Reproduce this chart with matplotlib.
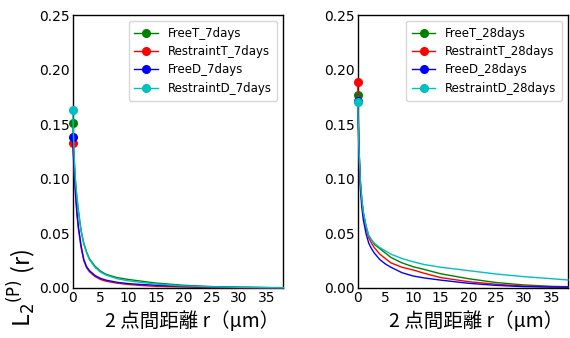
import matplotlib
matplotlib.use("Agg")
import matplotlib.pyplot as plt

r = [0, 0.25, 0.5, 0.75, 1, 1.5, 2, 2.5, 3, 4, 5, 6, 8, 10, 12, 15, 20, 25, 30, 35, 38]

# 7 days
freeT_7 = [0.151, 0.118, 0.097, 0.083, 0.072, 0.053, 0.041, 0.033, 0.027, 0.020, 0.0155, 0.0125, 0.0095,
           0.0078, 0.0065, 0.0045, 0.0025, 0.0013, 0.0007, 0.0004, 0.0003]
restT_7 = [0.133, 0.106, 0.085, 0.068, 0.055, 0.037, 0.025, 0.0185, 0.015, 0.0105, 0.0078, 0.0062, 0.0044,
           0.0032, 0.0024, 0.0015, 0.0008, 0.0004, 0.0002, 0.0001, 0.0001]
freeD_7 = [0.138, 0.110, 0.088, 0.070, 0.057, 0.039, 0.026, 0.0195, 0.016, 0.0115, 0.0088, 0.0072, 0.0052,
           0.004, 0.0033, 0.0025, 0.0015, 0.0009, 0.0005, 0.0003, 0.0002]
restD_7 = [0.163, 0.122, 0.098, 0.083, 0.071, 0.052, 0.040, 0.032, 0.026, 0.019, 0.0145, 0.0118, 0.0085,
           0.0066, 0.0053, 0.0036, 0.0019, 0.0011, 0.0006, 0.0003, 0.0002]

# 28 days
freeT_28 = [0.177, 0.126, 0.097, 0.081, 0.070, 0.057, 0.048, 0.044, 0.040, 0.036, 0.032, 0.028, 0.023,
            0.0195, 0.017, 0.013, 0.0085, 0.005, 0.0028, 0.0015, 0.0012]
restT_28 = [0.189, 0.126, 0.096, 0.079, 0.068, 0.055, 0.046, 0.041, 0.037, 0.031, 0.027, 0.023, 0.019,
            0.0165, 0.0135, 0.0095, 0.0058, 0.0034, 0.0018, 0.001, 0.0008]
freeD_28 = [0.171, 0.120, 0.090, 0.074, 0.063, 0.050, 0.041, 0.036, 0.032, 0.026, 0.022, 0.019, 0.014,
            0.011, 0.0092, 0.0072, 0.0043, 0.0024, 0.0012, 0.0008, 0.0007]
restD_28 = [0.170, 0.125, 0.097, 0.081, 0.070, 0.057, 0.048, 0.044, 0.041, 0.037, 0.034, 0.031, 0.027,
            0.024, 0.0215, 0.019, 0.0159, 0.0128, 0.0104, 0.0085, 0.0073]

labels_7 = ["FreeT_7days", "RestraintT_7days", "FreeD_7days", "RestraintD_7days"]
labels_28 = ["FreeT_28days", "RestraintT_28days", "FreeD_28days", "RestraintD_28days"]
colors = ["g", "r", "b", "c"]

yticks = [0.00, 0.05, 0.10, 0.15, 0.20, 0.25]
xticks = [0, 5, 10, 15, 20, 25, 30, 35]

xlabel = "2 点間距離 r（μm）"
ylabel = r"L$_2$$^{\rm (P)}$ (r)"

fig = plt.figure(figsize=(5.7, 3.38), dpi=100)
ax1 = fig.add_axes([0.1276, 0.148, 0.3694, 0.8076])
ax2 = fig.add_axes([0.6275, 0.148, 0.369, 0.8076])

jp = ["Noto Sans CJK JP", "DejaVu Sans"]

for ax, series, labels, show_ylabel in [
    (ax1, [freeT_7, restT_7, freeD_7, restD_7], labels_7, True),
    (ax2, [freeT_28, restT_28, freeD_28, restD_28], labels_28, False),
]:
    for vals, lab, c in zip(series, labels, colors):
        ax.plot(r, vals, color=c, lw=1.0, marker="o", ms=5.5, markevery=[0],
                label=lab, clip_on=False, zorder=3)
    ax.set_xlim(0, 38)
    ax.set_ylim(0, 0.25)
    ax.set_xticks(xticks)
    ax.set_yticks(yticks)
    ax.set_yticklabels([f"{v:.2f}" for v in yticks])
    ax.tick_params(length=0, labelsize=10, pad=2)
    for s in ax.spines.values():
        s.set_linewidth(1.0)
    ax.legend(loc="upper right", fontsize=8.5, frameon=True, handlelength=2.0,
              borderpad=0.5, labelspacing=0.45)
    ax.set_xlabel(xlabel, fontsize=14, family=jp)
    ax.xaxis.set_label_coords(0.565, -0.085)
    if show_ylabel:
        ax.set_ylabel(ylabel, fontsize=17, family=jp)
        ax.yaxis.set_label_coords(-0.165, 0.0)

fig.savefig("out.png", dpi=100)
